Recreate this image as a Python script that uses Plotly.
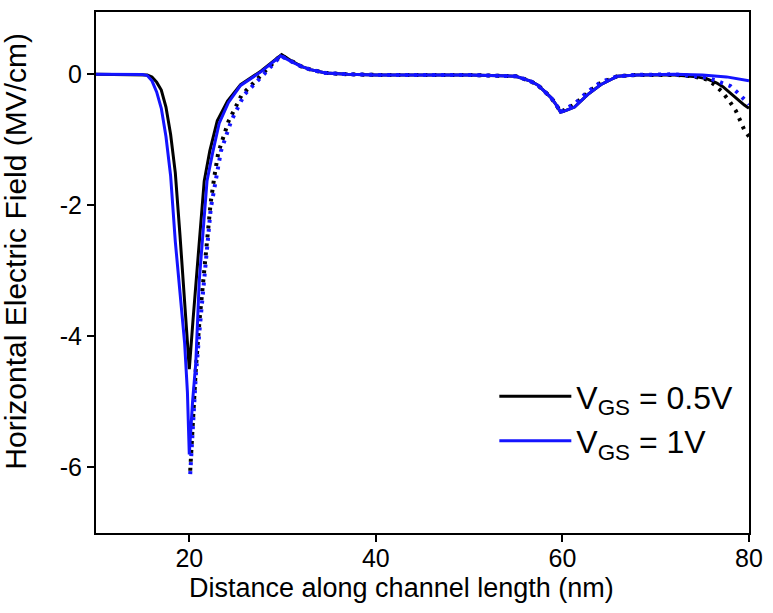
import plotly.graph_objects as go

# Horizontal electric field along the channel, two gate biases
x_05 = [10, 14, 15, 15.5, 16, 16.5, 17, 17.5, 18, 18.5, 19, 19.5, 19.8, 20,
        20.4, 20.8, 21.3, 21.6, 22.2, 23.0, 24.1, 25.5, 27.7, 29.9, 31, 32, 33,
        34.6, 37, 40, 50, 55, 56.5, 57.3, 58, 58.8, 59.4, 59.8, 60.4, 61.3, 62.7,
        64.1, 65.9, 68, 72, 74.4, 75.5, 76.5, 77.2, 77.9, 78.5, 79, 79.5, 80]
e_05 = [0, 0, -0.005, -0.01, -0.04, -0.12, -0.24, -0.5, -0.92, -1.5, -2.45, -3.4,
        -4.0, -4.5, -3.75, -3.0, -2.15, -1.63, -1.17, -0.71, -0.41, -0.16, 0.05,
        0.30, 0.2, 0.12, 0.07, 0.02, 0.0, -0.01, -0.01, -0.03, -0.1, -0.16, -0.25,
        -0.36, -0.48, -0.58, -0.55, -0.5, -0.31, -0.16, -0.03, -0.01, -0.01, -0.04,
        -0.07, -0.13, -0.19, -0.27, -0.34, -0.41, -0.47, -0.52]

x_10 = [10, 14, 15, 15.5, 16, 16.5, 17, 17.5, 18, 18.5, 19, 19.5, 19.8, 20,
        20.35, 20.7, 21.07, 21.5, 21.9, 22.5, 23.2, 24.2, 25.5, 27.7, 29.8, 31,
        32, 33, 34.6, 37, 40, 50, 55, 56.5, 57.3, 58, 58.8, 59.4, 59.8, 60.4,
        61.3, 62.7, 64.1, 65.9, 68, 72, 75, 77.6, 79, 80]
e_10 = [0, 0, -0.005, -0.02, -0.1, -0.27, -0.52, -0.95, -1.55, -2.55, -3.3, -4.1,
        -4.85, -5.8, -5.0, -4.4, -3.15, -2.3, -1.63, -1.2, -0.75, -0.43, -0.17,
        0.04, 0.28, 0.19, 0.12, 0.07, 0.02, 0.0, -0.01, -0.01, -0.03, -0.1, -0.16,
        -0.25, -0.36, -0.48, -0.58, -0.55, -0.5, -0.31, -0.16, -0.03, -0.01, 0.0,
        -0.01, -0.04, -0.07, -0.1]

# Dotted companion curves (channel region only)
x_05_dot = [20.1, 20.4, 20.7, 21.1, 21.5, 21.9, 22.3, 22.7, 23.1, 24.2, 25.6,
            27.8, 29.8, 31, 32, 33, 34.6, 37, 40, 50, 55, 56.5, 57.3, 58, 58.8,
            59.4, 59.8, 60.4, 61.3, 62.7, 64.1, 65.9, 68, 72, 74, 75.5, 76.3,
            77.06, 77.9, 78.6, 79.1, 79.5, 80]
e_05_dot = [-6.05, -5.2, -4.5, -3.75, -3.1, -2.45, -1.95, -1.55, -1.2, -0.72,
            -0.32, 0.0, 0.29, 0.2, 0.12, 0.07, 0.02, 0.0, -0.01, -0.01, -0.03,
            -0.1, -0.16, -0.25, -0.36, -0.48, -0.58, -0.53, -0.46, -0.28, -0.13,
            -0.03, -0.01, -0.01, -0.03, -0.08, -0.16, -0.26, -0.41, -0.56, -0.71,
            -0.85, -0.95]

x_10_dot = [20.1, 20.4, 20.7, 21.1, 21.5, 21.9, 22.3, 22.8, 23.4, 24.5, 25.9,
            28.0, 29.8, 31, 32, 33, 34.6, 37, 40, 50, 55, 56.5, 57.3, 58, 58.8,
            59.4, 59.8, 60.4, 61.3, 62.7, 64.1, 65.9, 68, 72, 74, 75.5, 76.5, 78,
            79, 80]
e_10_dot = [-6.1, -5.3, -4.6, -3.9, -3.3, -2.6, -2.05, -1.65, -1.17, -0.71, -0.31,
            0.0, 0.28, 0.19, 0.12, 0.07, 0.02, 0.0, -0.01, -0.01, -0.03, -0.1,
            -0.16, -0.25, -0.36, -0.48, -0.58, -0.52, -0.45, -0.27, -0.12, -0.03,
            -0.01, 0.0, -0.02, -0.05, -0.1, -0.18, -0.31, -0.46]

x_ticks = [20, 40, 60, 80]
y_ticks = [-6, -4, -2, 0]
y_tick_text = ["-6", "-4", "-2", "0"]

x_title = "Distance along channel length (nm)"
y_title = "Horizontal Electric Field (MV/cm)"

BLACK = "#000000"
BLUE = "#1414ff"
FONT = "Liberation Sans, Arial, sans-serif"
DOTS = "3px,6px"

fig = go.Figure()
fig.add_trace(go.Scatter(x=x_05, y=e_05, mode="lines", name="V<sub>GS</sub> = 0.5V",
                         line=dict(color=BLACK, width=3)))
fig.add_trace(go.Scatter(x=x_05_dot, y=e_05_dot, mode="lines", showlegend=False,
                         line=dict(color=BLACK, width=4, dash=DOTS)))
fig.add_trace(go.Scatter(x=x_10, y=e_10, mode="lines", name="V<sub>GS</sub> = 1V",
                         line=dict(color=BLUE, width=3)))
fig.add_trace(go.Scatter(x=x_10_dot, y=e_10_dot, mode="lines", showlegend=False,
                         line=dict(color=BLUE, width=4, dash=DOTS)))

axis_common = dict(
    showline=True, linecolor=BLACK, linewidth=2, mirror=True,
    ticks="outside", ticklen=7, tickwidth=2, tickcolor=BLACK,
    showgrid=False, zeroline=False,
    tickfont=dict(family=FONT, size=25, color=BLACK),
)

fig.update_layout(
    width=773, height=613,
    margin=dict(l=96, r=19, t=10, b=80),
    paper_bgcolor="white", plot_bgcolor="white",
    font=dict(family=FONT, color=BLACK),
    xaxis=dict(range=[10, 80], tickvals=x_ticks, ticklabelstandoff=-5,
               **axis_common),
    yaxis=dict(range=[-7, 0.95], tickvals=y_ticks, ticktext=y_tick_text,
               **axis_common),
    legend=dict(x=0.61, y=0.315, xanchor="left", yanchor="top",
                bgcolor="rgba(0,0,0,0)", itemwidth=72,
                font=dict(family=FONT, size=32, color=BLACK),
                tracegroupgap=0),
    annotations=[
        dict(text=x_title, xref="paper", yref="paper", x=0.468, y=0,
             xanchor="center", yanchor="top", yshift=-38, showarrow=False,
             font=dict(family=FONT, size=27, color=BLACK)),
        dict(text=y_title, xref="paper", yref="paper", x=0, y=0.54,
             xanchor="center", yanchor="middle", xshift=-80, textangle=-90,
             showarrow=False, font=dict(family=FONT, size=30, color=BLACK)),
    ],
)

fig.write_html("out.html")
